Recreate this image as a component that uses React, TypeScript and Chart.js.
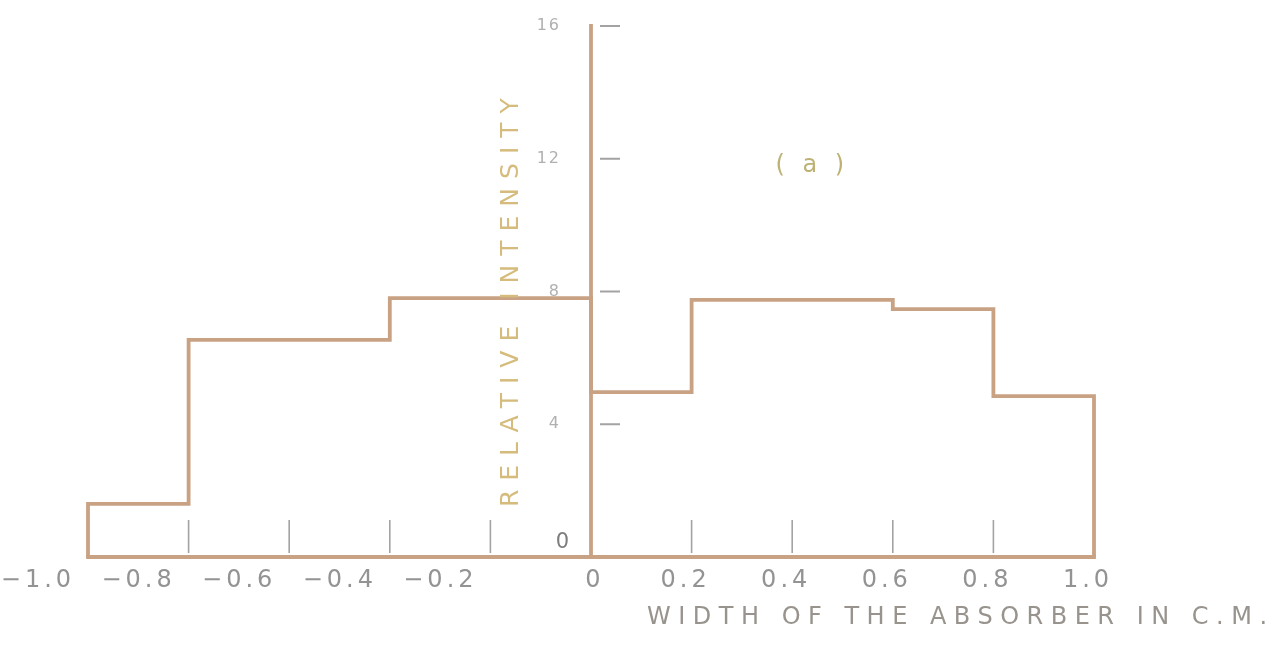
import React, { useEffect, useRef } from "react";
import { Chart, registerables } from "chart.js";

Chart.register(...registerables);

// ---- data ----
const binEdges = [-1.0, -0.8, -0.4, 0.0, 0.2, 0.6, 0.8, 1.0];
const binHeights = [1.6, 6.54, 7.8, 4.97, 7.75, 7.47, 4.85];
const xTickValues = [-1.0, -0.8, -0.6, -0.4, -0.2, 0, 0.2, 0.4, 0.6, 0.8, 1.0];
const xTickLabels = ["−1.0", "−0.8", "−0.6", "−0.4", "−0.2", "0", "0.2", "0.4", "0.6", "0.8", "1.0"];
const yTickValues = [0, 4, 8, 12, 16];
const yTickLabels = ["0", "4", "8", "12", "16"];
const xTitle = "WIDTH OF THE ABSORBER IN C.M.";
const yTitle = "RELATIVE INTENSITY";
const panelLabel = "( a )";

const LINE_COLOR = "#c9a284";
const TICK_COLOR = "#a3a3a3";
const LABEL_COLOR = "#939393";
const FONT = '"DejaVu Sans", sans-serif';

const decorPlugin = {
  id: "decor",
  beforeDatasetsDraw(chart: any) {
    const ctx = chart.ctx;
    const xs = chart.scales.x;
    const ys = chart.scales.y;
    const x0 = xs.getPixelForValue(0);
    const y0 = ys.getPixelForValue(0);
    ctx.save();
    ctx.strokeStyle = LINE_COLOR;
    ctx.lineWidth = 3.8;
    ctx.lineCap = "square";
    ctx.beginPath();
    ctx.moveTo(xs.getPixelForValue(binEdges[0]), y0);
    ctx.lineTo(xs.getPixelForValue(binEdges[binEdges.length - 1]), y0);
    ctx.moveTo(x0, y0);
    ctx.lineTo(x0, ys.getPixelForValue(yTickValues[yTickValues.length - 1]));
    ctx.stroke();

    ctx.strokeStyle = TICK_COLOR;
    ctx.lineWidth = 1.6;
    ctx.lineCap = "butt";
    ctx.beginPath();
    xTickValues.forEach((v) => {
      if (v === 0 || Math.abs(v) === 1) return;
      const px = xs.getPixelForValue(v);
      ctx.moveTo(px, y0 - 4);
      ctx.lineTo(px, y0 - 37);
    });
    ctx.stroke();
    ctx.lineWidth = 2;
    ctx.beginPath();
    yTickValues.forEach((v) => {
      if (v === 0) return;
      const py = ys.getPixelForValue(v);
      ctx.moveTo(x0 + 9, py);
      ctx.lineTo(x0 + 29, py);
    });
    ctx.stroke();
    ctx.restore();
  },
  afterDraw(chart: any) {
    const ctx = chart.ctx;
    const xs = chart.scales.x;
    const ys = chart.scales.y;
    const x0 = xs.getPixelForValue(0);
    const y0 = ys.getPixelForValue(0);
    ctx.save();
    // x tick labels
    ctx.font = `24px ${FONT}`;
    ctx.fillStyle = LABEL_COLOR;
    ctx.textAlign = "center";
    ctx.textBaseline = "middle";
    (ctx as any).letterSpacing = "4px";
    xTickValues.forEach((v, i) => {
      const off = v < 0 ? -50 : v === 0 ? 4 : -6;
      ctx.fillText(xTickLabels[i], xs.getPixelForValue(v) + off, y0 + 24);
    });
    // y tick labels
    ctx.textAlign = "right";
    (ctx as any).letterSpacing = "2px";
    yTickValues.forEach((v, i) => {
      if (v === 0) {
        ctx.font = `21px ${FONT}`;
        ctx.fillStyle = "#7d7d7d";
        ctx.fillText(yTickLabels[i], x0 - 20, y0 - 14);
      } else {
        ctx.font = `16px ${FONT}`;
        ctx.fillStyle = "#b0b0b0";
        ctx.fillText(yTickLabels[i], x0 - 30, ys.getPixelForValue(v));
      }
    });
    // x axis title
    ctx.font = `24px ${FONT}`;
    ctx.fillStyle = "#98938d";
    ctx.textAlign = "left";
    (ctx as any).letterSpacing = "7.5px";
    ctx.fillText(xTitle, x0 + 56, y0 + 61);
    // y axis title
    ctx.save();
    ctx.translate(x0 - 80, ys.getPixelForValue(7.8));
    ctx.rotate(-Math.PI / 2);
    ctx.textAlign = "center";
    ctx.font = `25px ${FONT}`;
    ctx.fillStyle = "#d6bc7c";
    (ctx as any).letterSpacing = "9px";
    ctx.fillText(yTitle, 0, 0);
    ctx.restore();
    // panel label
    ctx.font = `24px ${FONT}`;
    ctx.fillStyle = "#bdb274";
    ctx.textAlign = "center";
    (ctx as any).letterSpacing = "5px";
    ctx.fillText(panelLabel, xs.getPixelForValue(0.44), ys.getPixelForValue(11.8));
    ctx.restore();
  },
};

export default function App() {
  const canvasRef = useRef<HTMLCanvasElement | null>(null);

  useEffect(() => {
    if (!canvasRef.current) return;
    const points = [
      { x: binEdges[0], y: 0 },
      ...binHeights.map((h, i) => ({ x: binEdges[i], y: h })),
      { x: binEdges[binEdges.length - 1], y: 0 },
    ];
    const chart = new Chart(canvasRef.current, {
      type: "line",
      data: {
        datasets: [
          {
            data: points,
            stepped: "before",
            borderColor: LINE_COLOR,
            borderWidth: 3.8,
            pointRadius: 0,
            fill: false,
            clip: false,
          } as any,
        ],
      },
      options: {
        animation: false,
        responsive: true,
        maintainAspectRatio: false,
        layout: { padding: { left: 88, right: 186, top: 26, bottom: 93 } },
        plugins: { legend: { display: false }, tooltip: { enabled: false } },
        scales: {
          x: { type: "linear", min: -1, max: 1, display: false },
          y: { type: "linear", min: 0, max: 16, display: false },
        },
      },
      plugins: [decorPlugin],
    });
    return () => chart.destroy();
  }, []);

  return (
    <div style={{ position: "fixed", left: 0, top: 0, width: 1280, height: 650, background: "#ffffff" }}>
      <canvas ref={canvasRef} />
    </div>
  );
}
